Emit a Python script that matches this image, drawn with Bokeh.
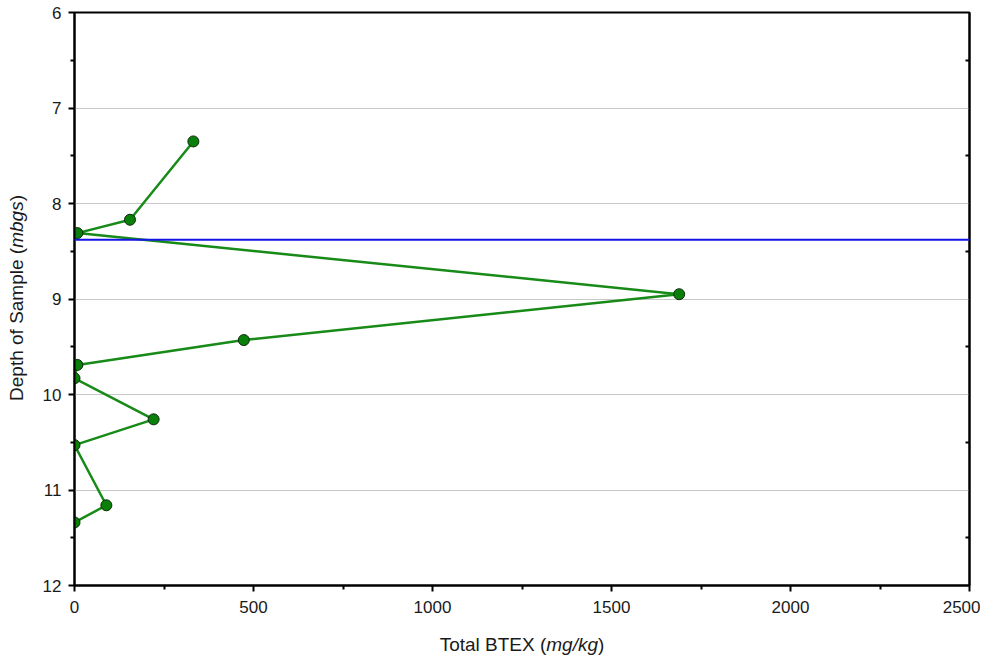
from bokeh.plotting import figure
from bokeh.models import FixedTicker, LinearAxis, Span, Div
from bokeh.layouts import row, column
from bokeh.embed import file_html
from bokeh.resources import INLINE

# ---- data ----
btex = [332, 155, 8, 1689, 473, 8, 0, 221, 0, 89, 0]
depth = [7.35, 8.17, 8.31, 8.95, 9.43, 9.69, 9.83, 10.26, 10.53, 11.16, 11.34]
water_table = 8.38

x_ticks = [0, 500, 1000, 1500, 2000, 2500]
x_minor = [250, 750, 1250, 1750, 2250]
y_ticks = [6, 7, 8, 9, 10, 11, 12]
y_minor = [6.5, 7.5, 8.5, 9.5, 10.5, 11.5]

x_title = ("Total BTEX (", "mg/kg", ")")
y_title = ("Depth of Sample (", "mbgs", ")")

FONT = "Liberation Sans"

p = figure(width=950, height=620, x_range=(0, 2500), y_range=(12, 6),
           output_backend="svg", toolbar_location=None,
           min_border_left=44, min_border_right=11, min_border_top=12, min_border_bottom=35)
p.background_fill_color = "white"
p.border_fill_color = "white"
p.outline_line_color = "black"
p.outline_line_width = 2

# grid
p.xgrid.visible = False
p.ygrid.ticker = FixedTicker(ticks=y_ticks)
p.ygrid.grid_line_color = "#c8c8c8"
p.ygrid.grid_line_width = 1

xa = p.xaxis[0]
xa.ticker = FixedTicker(ticks=x_ticks, minor_ticks=x_minor)
ya = p.yaxis[0]
ya.ticker = FixedTicker(ticks=y_ticks, minor_ticks=y_minor)
for ax in (xa, ya):
    ax.axis_line_width = 2
    ax.axis_line_color = "black"
    ax.major_tick_line_width = 2
    ax.minor_tick_line_width = 2
    ax.major_tick_line_color = "black"
    ax.minor_tick_line_color = "black"
    ax.major_tick_in = 0
    ax.major_tick_out = 6
    ax.minor_tick_in = 0
    ax.minor_tick_out = 4
    ax.major_label_text_font = FONT
    ax.major_label_text_font_size = "17px"
    ax.major_label_text_color = "#1a1a1a"
xa.major_label_standoff = 9
ya.major_label_standoff = 7

# right axis: half-unit ticks pointing inside, no labels
ra = LinearAxis(ticker=FixedTicker(ticks=y_minor, minor_ticks=[]))
ra.axis_line_width = 2
ra.axis_line_color = "black"
ra.major_tick_in = 4
ra.major_tick_out = 0
ra.major_tick_line_width = 2
ra.minor_tick_line_color = None
ra.major_label_text_font_size = "0px"
ra.major_label_text_alpha = 0
p.add_layout(ra, "right")

# water table line
p.add_layout(Span(location=water_table, dimension="width",
                  line_color="#1414e8", line_width=2))

# profile
p.line(btex, depth, line_color="#178a17", line_width=2.5)
p.scatter(btex, depth, size=11, fill_color="#0a7f0a", line_color="#0b2a0b", line_width=1)

# axis titles as HTML (mixed normal / italic)
font_css = f"font-family:'{FONT}'; font-size:19px; line-height:22px; color:#1a1a1a; white-space:nowrap;"
yt_html = (f'<div style="position:absolute; left:17px; top:298px; '
           f'transform:translate(-50%,-50%) rotate(-90deg); {font_css}">'
           f'{y_title[0]}<i>{y_title[1]}</i>{y_title[2]}</div>')
xt_html = (f'<div style="position:absolute; left:522px; top:14px; '
           f'transform:translateX(-50%); {font_css}">'
           f'{x_title[0]}<i>{x_title[1]}</i>{x_title[2]}</div>')

div_y = Div(text=yt_html, width=30, height=620, margin=0, styles={"position": "relative"})
div_x = Div(text=xt_html, width=980, height=40, margin=0, styles={"position": "relative"})

layout = column(row(div_y, p, spacing=0), div_x, spacing=0)

open("out.html", "w").write(file_html(layout, INLINE))
